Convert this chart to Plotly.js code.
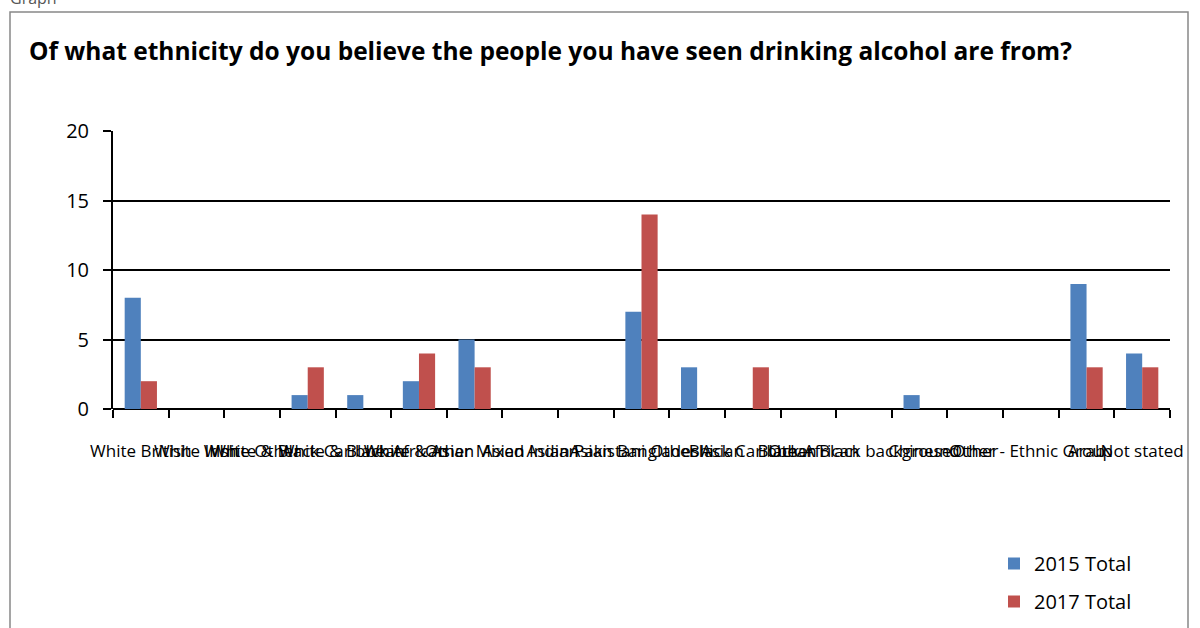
<!DOCTYPE html>
<html>
<head>
<meta charset="utf-8">
<script src="https://cdn.plot.ly/plotly-3.0.1.min.js"></script>
<style>html,body{margin:0;padding:0;background:#fff;}#chart{width:1200px;height:628px;}</style>
</head>
<body>
<div id="chart"></div>
<script>
const categories = [
  "White British", "White Irish", "White Other", "White & Black Caribbean",
  "White & Black African", "White & Asian", "Other Mixed", "Asian Indian",
  "Asian Pakistani", "Asian Bangladeshi", "Other Asian", "Black Caribbean",
  "Black African", "Other Black background", "Chinese", "Other",
  "Other - Ethnic Group", "Arab", "Not stated"
];
const total2015 = [8, 0, 0, 1, 1, 2, 5, 0, 0, 7, 3, 0, 0, 0, 1, 0, 0, 9, 4];
const total2017 = [2, 0, 0, 3, 0, 4, 3, 0, 0, 14, 0, 3, 0, 0, 0, 0, 0, 3, 3];
const yTicks = [0, 5, 10, 15, 20];

const font = "Open Sans, Liberation Sans, Arial, sans-serif";
const L = 113, R = 1170, T = 131, B = 409;
const pw = R - L, ph = B - T;
const px = v => (v - L) / pw;
const py = v => (B - v) / ph;

const data = [
  {type: "bar", name: "2015 Total", legendgroup: "a", x: categories, y: total2015, marker: {color: "#4F81BD"}},
  {type: "bar", name: "2017 Total", legendgroup: "b", x: categories, y: total2017, marker: {color: "#C0504D"}}
];

const layout = {
  width: 1200, height: 628,
  margin: {l: L, r: 1200 - R, t: T, b: 628 - B, pad: 0, autoexpand: false},
  paper_bgcolor: "#fff", plot_bgcolor: "#fff",
  barmode: "group", bargap: 0.42, bargroupgap: 0,
  font: {family: font, color: "#000"},
  showlegend: true,
  legend: {x: px(994), y: py(544), xanchor: "left", yanchor: "top",
           font: {size: 20, family: font}, tracegroupgap: 9, traceorder: "grouped", itemwidth: 30,
           bgcolor: "rgba(0,0,0,0)"},
  xaxis: {
    type: "category", tickangle: 0, showgrid: false, zeroline: false, automargin: false,
    showline: false, ticks: "outside", tickson: "boundaries", ticklen: 8,
    tickcolor: "#000", tickwidth: 2, ticklabelstandoff: 30,
    tickfont: {size: 17, family: font}, fixedrange: true
  },
  yaxis: {
    range: [0, 20], tickvals: yTicks, ticktext: yTicks.map(String), automargin: false,
    showgrid: true, gridcolor: "#000", gridwidth: 2, zeroline: true,
    zerolinecolor: "#000", zerolinewidth: 2,
    showline: true, linecolor: "#000", linewidth: 2,
    ticks: "outside", ticklen: 8, tickcolor: "#000", tickwidth: 2,
    ticklabelstandoff: 10, tickfont: {size: 20, family: font}, fixedrange: true
  },
  shapes: [
    {type: "rect", xref: "paper", yref: "paper", x0: px(10), x1: px(1188), y0: py(12), y1: py(700),
     line: {color: "#888", width: 1.5}, fillcolor: "rgba(0,0,0,0)", layer: "below"}
  ],
  annotations: [
    {xref: "paper", yref: "paper", x: px(27), y: py(50), xanchor: "left", yanchor: "middle",
     text: "<b>Of what ethnicity do you believe the people you have seen drinking alcohol are from?</b>",
     showarrow: false, font: {size: 24.5, family: font, color: "#000"}},
    {xref: "paper", yref: "paper", x: px(8), y: py(-2), xanchor: "left", yanchor: "middle",
     text: "Graph", showarrow: false, font: {size: 16, family: font, color: "#555"}}
  ]
};

Plotly.newPlot("chart", data, layout, {displayModeBar: false, staticPlot: true});
</script>
</body>
</html>
